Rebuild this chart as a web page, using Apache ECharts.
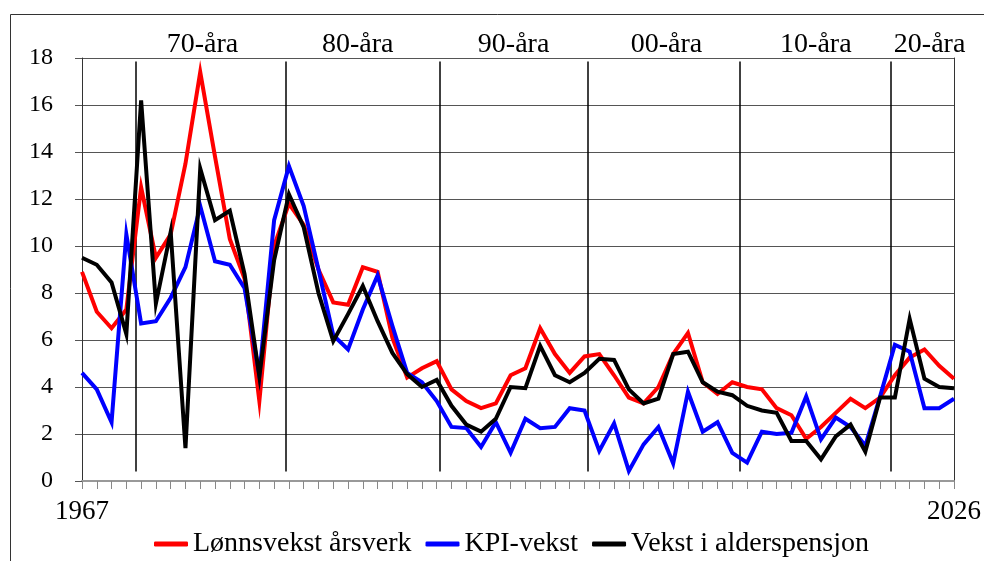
<!DOCTYPE html>
<html>
<head>
<meta charset="utf-8">
<script src="https://cdn.jsdelivr.net/npm/echarts@6/dist/echarts.min.js"></script>
<style>
html,body{margin:0;padding:0;background:#fff;}
#chart{width:984px;height:561px;}
</style>
</head>
<body>
<div id="chart"></div>
<script>
var years = [1967,1968,1969,1970,1971,1972,1973,1974,1975,1976,
             1977,1978,1979,1980,1981,1982,1983,1984,1985,1986,
             1987,1988,1989,1990,1991,1992,1993,1994,1995,1996,
             1997,1998,1999,2000,2001,2002,2003,2004,2005,2006,
             2007,2008,2009,2010,2011,2012,2013,2014,2015,2016,
             2017,2018,2019,2020,2021,2022,2023,2024,2025,2026];

var lonnsvekst = [8.9,7.2,6.5,7.3,12.5,9.5,10.5,13.5,17.4,13.8,
                  10.3,8.6,3.4,10.0,11.8,10.9,9.0,7.6,7.5,9.1,
                  8.9,6.1,4.4,4.8,5.1,3.9,3.4,3.1,3.3,4.5,
                  4.8,6.5,5.4,4.6,5.3,5.4,4.5,3.55,3.3,4.0,
                  5.4,6.3,4.2,3.7,4.2,4.0,3.9,3.1,2.8,1.8,
                  2.3,2.9,3.5,3.1,3.55,4.5,5.25,5.6,4.9,4.35];

var kpivekst = [4.6,3.9,2.5,10.5,6.7,6.8,7.8,9.1,11.7,9.35,
                9.2,8.2,4.5,11.1,13.4,11.7,9.0,6.2,5.6,7.3,
                8.75,6.6,4.6,4.2,3.4,2.3,2.25,1.45,2.5,1.2,
                2.65,2.25,2.3,3.1,3.0,1.28,2.45,0.43,1.56,2.3,
                0.75,3.8,2.1,2.5,1.2,0.78,2.1,2.0,2.05,3.6,
                1.77,2.7,2.3,1.5,3.6,5.8,5.5,3.1,3.1,3.5];

var alderspensjon = [9.5,9.2,8.45,6.25,16.2,7.55,10.6,1.4,13.3,11.1,
                     11.5,8.8,4.45,9.4,12.2,10.8,8.0,5.95,7.1,8.3,
                     6.8,5.45,4.55,4.0,4.3,3.2,2.4,2.1,2.65,4.0,
                     3.95,5.75,4.5,4.2,4.6,5.2,5.15,3.9,3.3,3.5,
                     5.4,5.5,4.2,3.8,3.65,3.2,3.0,2.9,1.7,1.7,
                     0.92,1.9,2.4,1.25,3.55,3.55,6.9,4.35,4.0,3.95];

var seriesNames = ['Lønnsvekst årsverk','KPI-vekst','Vekst i alderspensjon'];
var seriesColors = ['#ff0000','#0000ff','#000000'];

var decadeLabels = ['70-åra','80-åra','90-åra','00-åra','10-åra','20-åra'];
var decadeLabelYears = [1975.15,1985.65,1996.2,2006.55,2016.65,2024.35];
var decadeLineYears = [1970.65,1980.8,1991.2,2001.2,2011.5,2021.7];

var yTicks = [0,2,4,6,8,10,12,14,16,18];
var xTickLabels = [1967, 2026];

var FONT = '"Liberation Serif", "Times New Roman", serif';

function pairs(vals){ return years.map(function(y,i){ return [y, vals[i]]; }); }

var chart = echarts.init(document.getElementById('chart'));

var lineMarks = decadeLineYears.map(function(x){
  return [{coord:[x, 17.85]}, {coord:[x, 0.4]}];
});

function mkSeries(name, vals, color, extra){
  var s = {
    name: name, type: 'line', data: pairs(vals), symbol: 'none',
    lineStyle: {color: color, width: 4, join: 'miter', cap: 'butt'},
    itemStyle: {color: color},
    animation: false, z: 3
  };
  if (extra) for (var k in extra) s[k] = extra[k];
  return s;
}

var option = {
  animation: false,
  backgroundColor: '#fff',
  grid: {left: 82, right: 29, top: 58, bottom: 80, containLabel: false},
  legend: {
    data: seriesNames,
    left: 149, top: 525,
    itemWidth: 34, itemHeight: 5, itemGap: 14,
    icon: 'roundRect',
    textStyle: {fontFamily: FONT, fontSize: 28, color: '#000'}
  },
  xAxis: {
    type: 'value', min: years[0], max: years[years.length-1], interval: 1,
    axisLine: {show: true, lineStyle: {color: '#999', width: 2}},
    axisTick: {show: true, length: 8, lineStyle: {color: '#888', width: 1}},
    splitLine: {show: false},
    axisLabel: {
      margin: 17, fontFamily: FONT, fontSize: 27, color: '#000',
      showMinLabel: true, showMaxLabel: true,
      formatter: function(v){ return xTickLabels.indexOf(v) >= 0 ? String(v) : ''; }
    }
  },
  yAxis: [{
    type: 'value', min: yTicks[0], max: yTicks[yTicks.length-1], interval: 2,
    axisLine: {show: true, lineStyle: {color: '#333', width: 1}},
    axisTick: {show: true, length: 7, lineStyle: {color: '#555', width: 1}},
    splitLine: {show: true, lineStyle: {color: '#555', width: 1.2}},
    axisLabel: {margin: 29, fontFamily: FONT, fontSize: 24, color: '#000'}
  },{
    type: 'value', min: yTicks[0], max: yTicks[yTicks.length-1], interval: 2, position: 'right',
    axisLine: {show: true, lineStyle: {color: '#333', width: 1}},
    axisTick: {show: false}, splitLine: {show: false}, axisLabel: {show: false}
  }],
  graphic: [{
    type: 'rect', shape: {x: 10.5, y: 14.5, width: 1000, height: 600},
    style: {fill: 'none', stroke: '#333', lineWidth: 1}, silent: true, z: 0
  }],
  series: [
    mkSeries(seriesNames[0], lonnsvekst, seriesColors[0], {
      markLine: {
        silent: true, symbol: 'none', z: 1, animation: false,
        label: {show: false},
        lineStyle: {color: '#000', width: 1.5, type: 'solid'},
        data: lineMarks
      }
    }),
    mkSeries(seriesNames[1], kpivekst, seriesColors[1]),
    mkSeries(seriesNames[2], alderspensjon, seriesColors[2])
  ]
};

chart.setOption(option);

var labelGraphics = decadeLabels.map(function(t, i){
  var p = chart.convertToPixel({xAxisIndex: 0, yAxisIndex: 0}, [decadeLabelYears[i], 0]);
  return {
    type: 'text', x: p[0], y: 45, silent: true, z: 10,
    style: {text: t, fill: '#000', font: '28px ' + FONT, textAlign: 'center', textVerticalAlign: 'middle'}
  };
});
chart.setOption({graphic: option.graphic.concat(labelGraphics)});
</script>
</body>
</html>
